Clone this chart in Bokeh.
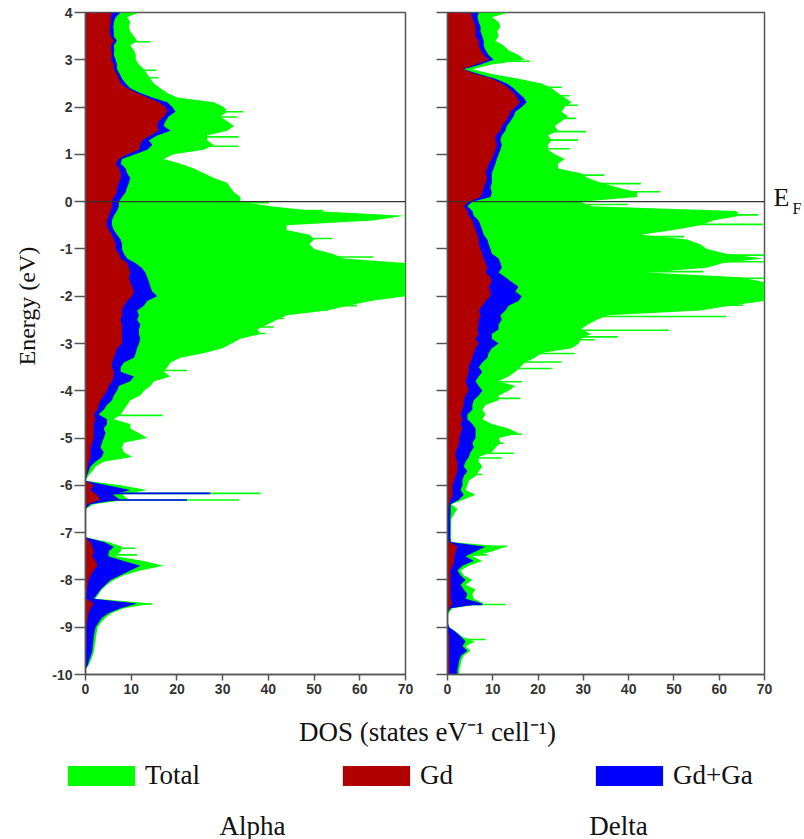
from bokeh.plotting import figure
from bokeh.models import (Range1d, FixedTicker, Span, Legend, LegendItem, Label, Title,
                          ColumnDataSource, CustomJSTickFormatter, LinearAxis)
from bokeh.layouts import column, row
from bokeh.embed import file_html
from bokeh.resources import INLINE

# ---------------- data ----------------
energy = [4.0, 3.9, 3.8, 3.7, 3.6, 3.5, 3.4, 3.3, 3.2, 3.1,
          3.0, 2.9, 2.8, 2.7, 2.6, 2.5, 2.4, 2.3, 2.2, 2.1,
          2.0, 1.9, 1.8, 1.7, 1.6, 1.5, 1.4, 1.3, 1.2, 1.1,
          1.0, 0.9, 0.8, 0.7, 0.6, 0.5, 0.4, 0.3, 0.2, 0.1,
          0.0, -0.1, -0.2, -0.3, -0.4, -0.5, -0.6, -0.7, -0.8, -0.9,
          -1.0, -1.1, -1.2, -1.3, -1.4, -1.5, -1.6, -1.7, -1.8, -1.9,
          -2.0, -2.1, -2.2, -2.3, -2.4, -2.5, -2.6, -2.7, -2.8, -2.9,
          -3.0, -3.1, -3.2, -3.3, -3.4, -3.5, -3.6, -3.7, -3.8, -3.9,
          -4.0, -4.1, -4.2, -4.3, -4.4, -4.5, -4.6, -4.7, -4.8, -4.9,
          -5.0, -5.1, -5.2, -5.3, -5.4, -5.5, -5.6, -5.7, -5.8, -5.9,
          -6.0, -6.1, -6.2, -6.3, -6.4, -6.5, -6.6, -6.7, -6.8, -6.9,
          -7.0, -7.1, -7.2, -7.3, -7.4, -7.5, -7.6, -7.7, -7.8, -7.9,
          -8.0, -8.1, -8.2, -8.3, -8.4, -8.5, -8.6, -8.7, -8.8, -8.9,
          -9.0, -9.1, -9.2, -9.3, -9.4, -9.5, -9.6, -9.7, -9.8, -9.9,
          -10.0]

alpha_total = [11.7, 9.1, 9.8, 9.5, 9.8, 10.6, 11.3, 9.8, 10.6, 11.0,
               11.0, 11.7, 12.8, 13.5, 14.2, 15.0, 16.4, 17.9, 20.1, 28.1,
               30.3, 31.0, 29.5, 31.0, 32.5, 31.0, 26.6, 26.6, 28.1, 25.9,
               19.3, 17.1, 20.8, 23.7, 25.9, 28.1, 31.0, 31.7, 32.5, 33.9,
               33.9, 40.5, 50.0, 69.7, 63.0, 44.0, 44.0, 49.0, 50.0, 49.0,
               50.0, 54.0, 56.5, 70.0, 70.0, 70.0, 70.0, 70.0, 70.0, 70.0,
               70.0, 62.4, 57.3, 52.9, 44.1, 41.9, 39.8, 37.6, 38.3, 33.9,
               32.0, 30.0, 26.0, 20.8, 18.6, 17.9, 17.1, 18.6, 15.0, 14.2,
               12.8, 12.0, 9.8, 9.1, 8.4, 7.7, 6.2, 9.8, 9.8, 11.7,
               13.5, 8.4, 8.0, 8.4, 10.2, 4.0, 2.2, 1.5, 0.6, 0.0,
               7.7, 13.5, 8.0, 9.5, 1.8, 0.0, 0.0, 0.0, 0.0, 0.0,
               0.0, 0.0, 5.0, 8.0, 7.7, 6.5, 12.8, 17.1, 12.0, 8.4,
               6.2, 4.7, 3.6, 2.9, 2.2, 14.6, 8.4, 5.8, 4.4, 3.4,
               2.7, 2.5, 2.3, 2.2, 2.0, 1.9, 1.6, 1.2, 0.7, 0.0,
               0.0]
alpha_gdga = [7.7, 6.6, 6.2, 6.1, 6.2, 6.2, 6.9, 6.2, 6.3, 6.2,
              6.6, 6.9, 6.9, 7.5, 8.0, 8.8, 9.8, 12.0, 14.6, 17.9,
              19.0, 19.7, 18.2, 17.5, 17.1, 18.6, 15.7, 13.9, 14.6, 13.5,
              10.9, 8.0, 7.7, 8.8, 9.1, 9.8, 9.5, 9.1, 8.8, 8.0,
              7.3, 7.3, 6.9, 6.2, 5.8, 5.8, 6.2, 6.9, 7.7, 8.0,
              8.0, 8.4, 9.1, 10.9, 12.3, 13.1, 13.5, 13.9, 14.2, 14.6,
              15.7, 13.5, 12.8, 11.3, 11.7, 11.3, 12.0, 11.7, 11.7, 12.0,
              11.7, 11.3, 11.0, 10.6, 8.4, 7.7, 7.7, 10.6, 9.8, 7.3,
              6.9, 6.2, 5.8, 4.7, 4.0, 2.9, 4.7, 4.7, 4.0, 4.4,
              4.0, 3.6, 3.3, 4.0, 3.6, 2.2, 1.1, 0.7, 0.3, 0.0,
              4.7, 9.8, 6.0, 7.5, 1.1, 0.0, 0.0, 0.0, 0.0, 0.0,
              0.0, 0.0, 4.0, 6.2, 5.1, 5.0, 8.4, 12.0, 9.8, 7.7,
              5.5, 4.4, 3.3, 2.6, 1.8, 11.3, 7.7, 5.1, 3.6, 2.9,
              2.2, 2.0, 1.8, 1.7, 1.6, 1.5, 1.2, 0.8, 0.5, 0.0,
              0.0]
alpha_gd = [5.8, 5.5, 5.5, 5.3, 5.3, 5.5, 6.2, 5.6, 5.6, 5.8,
            5.6, 6.2, 6.2, 6.9, 7.3, 7.7, 9.1, 11.3, 13.5, 16.0,
            17.5, 17.9, 17.1, 16.0, 15.7, 16.0, 14.2, 12.4, 12.0, 11.7,
            9.1, 7.3, 6.6, 7.3, 7.7, 7.7, 7.3, 6.9, 6.9, 6.2,
            5.8, 5.8, 5.5, 5.1, 4.7, 4.6, 5.1, 5.8, 6.2, 6.6,
            6.6, 7.3, 7.7, 9.1, 9.5, 9.8, 9.5, 9.8, 10.2, 10.6,
            10.2, 9.1, 8.4, 8.0, 8.0, 7.7, 8.0, 8.0, 8.0, 8.0,
            8.0, 6.9, 6.6, 6.2, 5.8, 5.8, 6.2, 6.2, 5.8, 5.1,
            4.7, 4.0, 3.3, 2.9, 2.6, 1.8, 2.2, 1.8, 1.8, 1.8,
            1.8, 1.5, 1.1, 1.1, 1.1, 0.7, 0.5, 0.4, 0.2, 0.0,
            1.8, 1.1, 2.5, 3.3, 0.4, 0.0, 0.0, 0.0, 0.0, 0.0,
            0.0, 0.0, 1.0, 1.5, 1.8, 1.5, 2.2, 2.6, 1.8, 1.1,
            0.7, 0.5, 0.4, 0.2, 0.2, 1.8, 1.1, 0.7, 0.5, 0.4,
            0.2, 0.2, 0.2, 0.2, 0.2, 0.1, 0.1, 0.1, 0.1, 0.0,
            0.0]

delta_total = [13.5, 9.8, 11.3, 11.7, 11.0, 11.3, 10.6, 12.4, 13.5, 15.7,
               17.1, 9.8, 5.5, 9.8, 15.7, 20.8, 23.0, 24.4, 25.9, 27.4,
               25.9, 25.2, 26.6, 25.2, 23.7, 24.4, 22.2, 23.0, 22.2, 22.2,
               23.7, 25.9, 24.4, 24.4, 29.5, 31.0, 33.9, 37.6, 41.9, 41.9,
               29.5, 31.7, 63.8, 64.6, 58.7, 55.8, 50.0, 42.7, 52.9, 55.8,
               57.3, 61.6, 69.7, 60.9, 57.3, 44.1, 64.6, 70.0, 70.0, 70.0,
               70.0, 70.0, 62.4, 55.8, 35.4, 33.0, 31.0, 29.5, 31.7, 29.5,
               29.0, 27.4, 20.8, 19.3, 17.1, 16.0, 15.0, 13.5, 11.3, 15.0,
               13.5, 11.3, 11.3, 8.4, 7.7, 8.4, 7.7, 9.8, 13.5, 15.7,
               11.3, 11.7, 10.6, 9.8, 6.9, 6.9, 7.7, 6.9, 6.2, 4.7,
               4.4, 4.0, 6.2, 3.6, 0.9, 2.2, 1.5, 0.9, 0.8, 0.8,
               0.8, 0.8, 0.9, 12.8, 9.8, 5.5, 7.7, 4.7, 2.9, 3.6,
               5.5, 4.0, 6.2, 5.5, 5.8, 8.0, 1.1, 0.3, 0.0, 0.0,
               0.4, 2.0, 3.3, 6.0, 4.0, 5.1, 3.6, 3.1, 2.9, 2.6,
               2.6]
delta_gdga = [6.9, 6.6, 6.9, 7.3, 7.3, 7.7, 8.0, 8.0, 8.4, 9.1,
              10.2, 7.3, 3.6, 6.9, 10.6, 13.1, 14.6, 15.7, 16.8, 17.5,
              16.4, 15.0, 14.6, 13.9, 13.1, 12.8, 12.0, 11.7, 12.0, 11.7,
              11.3, 10.9, 10.6, 10.2, 9.8, 9.8, 9.8, 9.5, 9.8, 9.5,
              5.5, 4.4, 5.5, 5.8, 6.9, 7.3, 7.7, 8.0, 8.8, 9.1,
              9.5, 9.8, 11.3, 11.7, 12.0, 11.3, 12.8, 14.2, 15.7, 15.0,
              16.4, 15.7, 13.5, 12.8, 11.7, 12.0, 11.3, 11.3, 9.8, 9.8,
              11.3, 9.8, 9.1, 8.8, 7.7, 6.9, 7.7, 6.9, 6.2, 6.9,
              7.7, 6.9, 5.8, 5.5, 5.5, 4.4, 4.4, 5.5, 6.2, 6.2,
              6.2, 5.5, 5.8, 5.1, 4.7, 4.0, 3.6, 4.4, 3.6, 3.3,
              3.3, 2.9, 3.6, 2.6, 0.7, 0.7, 0.7, 0.6, 0.6, 0.6,
              0.6, 0.6, 0.7, 8.4, 6.2, 4.0, 5.8, 3.3, 2.2, 2.9,
              4.0, 2.9, 3.6, 4.4, 4.0, 7.7, 0.7, 0.0, 0.0, 0.0,
              0.4, 1.8, 3.0, 4.0, 3.3, 4.4, 3.0, 2.6, 2.4, 2.2,
              2.2]
delta_gd = [5.1, 5.5, 5.8, 6.2, 6.2, 6.2, 6.9, 6.9, 7.3, 8.0,
            9.1, 6.2, 3.3, 6.2, 9.8, 12.0, 13.5, 14.6, 15.3, 16.0,
            15.0, 13.9, 13.5, 12.8, 12.0, 11.7, 10.6, 10.6, 10.9, 10.6,
            10.2, 9.8, 9.1, 8.8, 8.4, 8.8, 8.4, 8.0, 7.7, 7.3,
            4.7, 3.6, 4.4, 4.7, 5.5, 5.8, 6.2, 6.6, 6.9, 6.9,
            7.3, 7.7, 8.0, 8.4, 8.8, 8.4, 9.5, 9.8, 9.1, 9.5,
            9.5, 8.4, 7.7, 6.9, 7.3, 6.9, 6.9, 6.6, 6.9, 6.2,
            6.9, 6.2, 5.8, 5.5, 5.1, 4.7, 4.7, 4.4, 4.0, 4.4,
            4.7, 4.0, 3.6, 3.6, 3.3, 2.9, 3.3, 2.9, 3.3, 2.9,
            2.6, 2.6, 2.2, 1.8, 1.8, 2.2, 2.2, 2.2, 1.8, 1.5,
            1.1, 1.1, 1.1, 0.7, 0.4, 0.2, 0.2, 0.1, 0.1, 0.1,
            0.1, 0.1, 0.4, 2.2, 1.8, 1.5, 1.5, 1.1, 0.7, 0.7,
            0.7, 0.7, 0.7, 0.7, 0.7, 1.1, 0.4, 0.0, 0.0, 0.0,
            0.0, 0.2, 0.4, 0.4, 0.4, 0.4, 0.4, 0.4, 0.4, 0.4,
            0.4]

# narrow spikes of the total (and Gd+Ga) DOS
alpha_spike_e = [3.38, 2.78, 2.62, 1.90, 1.79, 1.37, 1.17, -0.02, -0.19, -0.78,
                 -1.17, -2.08, -2.20, -2.29, -2.47, -2.65, -2.79, -3.57, -4.52,
                 -6.17, -6.31, -7.33, -7.47, -8.51]
alpha_spike_total = [14.2, 15.5, 16.0, 34.5, 33.2, 33.5, 33.5, 40.1, 52.0, 54.0,
                     63.0, 62.4, 59.4, 52.9, 43.4, 41.2, 39.4, 22.2, 16.8,
                     38.3, 33.6, 10.9, 11.3, 14.6]
alpha_spike_gdga = [0, 0, 0, 0, 0, 0, 0, 0, 0, 0,
                    0, 0, 0, 0, 0, 0, 0, 0, 0,
                    27.3, 22.2, 0, 0, 0]

delta_spike_e = [2.97, 2.42, 2.24, 2.04, 1.76, 1.48, 1.30, 1.12, 0.56, 0.38,
                 0.21, -0.06, -0.28, -0.48, -0.74, -0.92, -1.13, -1.27, -1.48, -1.62,
                 -2.19, -2.43, -2.72, -2.86, -2.92, -3.21, -3.39, -3.53, -3.81, -4.16,
                 -4.92, -5.11, -5.32, -5.42, -5.77, -7.29, -7.47, -8.52, -9.26]
delta_spike_total = [18.2, 25.2, 27.0, 28.8, 28.4, 30.6, 28.8, 27.0, 34.6, 42.7,
                     47.0, 39.8, 68.6, 69.7, 52.2, 55.8, 70.0, 70.0, 56.5, 70.0,
                     65.3, 61.6, 48.9, 37.6, 32.5, 28.1, 25.2, 23.0, 16.4, 16.0,
                     16.4, 12.4, 14.6, 12.0, 7.7, 13.1, 8.8, 12.8, 8.4]
delta_spike_gdga = [0, 0, 0, 0, 0, 0, 0, 0, 0, 0,
                    0, 0, 0, 0, 0, 0, 0, 0, 0, 0,
                    0, 0, 0, 0, 0, 0, 0, 0, 0, 0,
                    0, 0, 0, 0, 0, 0, 0, 7.7, 0]

x_ticks = [0, 10, 20, 30, 40, 50, 60, 70]
y_ticks = [-10, -9, -8, -7, -6, -5, -4, -3, -2, -1, 0, 1, 2, 3, 4]
legend_labels = ["Total", "Gd", "Gd+Ga"]
panel_titles = ["Alpha", "Delta"]
fermi_level = 0.0

GREEN = "#00ff00"
RED = "#b00000"
BLUE = "#0000ff"
AX = "#555555"
TICKFONT = "Liberation Sans"
SERIF = "Liberation Serif"


def panel(width, bl, br, total, gdga, gd, sp_e, sp_tot, sp_gdga, show_labels):
    p = figure(width=width, height=708, x_range=Range1d(0, 70), y_range=Range1d(-10, 4),
               output_backend="svg", toolbar_location=None,
               min_border_left=bl, min_border_right=br, min_border_top=12, min_border_bottom=34)
    p.grid.visible = False
    p.outline_line_color = AX
    p.outline_line_width = 1.5
    src = ColumnDataSource(dict(E=energy, tot=total, gdga=gdga, gd=gd))
    ssrc = ColumnDataSource(dict(E=sp_e, tot=sp_tot, gdga=sp_gdga))
    p.harea(y="E", x1=0, x2="tot", source=src, fill_color=GREEN)
    p.segment(x0=0, y0="E", x1="tot", y1="E", source=ssrc, line_color=GREEN, line_width=1.6)
    p.harea(y="E", x1=0, x2="gdga", source=src, fill_color=BLUE)
    p.segment(x0=0, y0="E", x1="gdga", y1="E", source=ssrc, line_color=BLUE, line_width=1.6)
    p.harea(y="E", x1=0, x2="gd", source=src, fill_color=RED)
    p.add_layout(Span(location=fermi_level, dimension="width", line_color="#333333", line_width=1.2))

    for ax in (p.xaxis[0], p.yaxis[0]):
        ax.axis_line_color = AX
        ax.axis_line_width = 1.5
        ax.major_tick_line_color = AX
        ax.major_tick_line_width = 1.5
        ax.minor_tick_line_color = None
        ax.major_tick_in = 0
        ax.major_label_text_font = TICKFONT
        ax.major_label_text_font_style = "bold"
        ax.major_label_text_font_size = "14px"
        ax.major_label_text_color = "#333333"
    p.xaxis.ticker = FixedTicker(ticks=x_ticks)
    p.yaxis.ticker = FixedTicker(ticks=y_ticks)
    p.xaxis.major_tick_out = 6
    p.xaxis.major_label_standoff = 3
    p.yaxis.major_tick_out = 11
    p.yaxis.major_label_standoff = 2
    if show_labels:
        p.yaxis.formatter = CustomJSTickFormatter(code="return String(tick)")
    else:
        p.yaxis.formatter = CustomJSTickFormatter(code="return ''")
    return p


pL = panel(425, 85, 20, alpha_total, alpha_gdga, alpha_gd,
           alpha_spike_e, alpha_spike_total, alpha_spike_gdga, True)
pR = panel(379, 22, 37, delta_total, delta_gdga, delta_gd,
           delta_spike_e, delta_spike_total, delta_spike_gdga, False)

# y-axis title (placed off-centre as in the original)
pL.add_layout(Title(text="Energy (eV)", align="left", offset=309, standoff=19,
                    text_font=SERIF, text_font_size="24px", text_font_style="normal",
                    text_color="#111111"), "left")


# E_F marker: two label-only axes on the right of the Delta panel
def label_axis(txt, where, size, standoff):
    ax = LinearAxis(ticker=FixedTicker(ticks=[where]),
                    formatter=CustomJSTickFormatter(code="return '%s'" % txt))
    ax.axis_line_color = None
    ax.major_tick_line_color = None
    ax.minor_tick_line_color = None
    ax.major_tick_out = 0
    ax.major_tick_in = 0
    ax.major_label_standoff = standoff
    ax.major_label_text_font = SERIF
    ax.major_label_text_font_size = size
    ax.major_label_text_color = "#111111"
    return ax


pR.add_layout(label_axis("E", fermi_level + 0.08, "26px", 9), "right")
pR.add_layout(label_axis("F", fermi_level - 0.14, "16px", 0), "right")

# bottom strip: axis title, legend, panel names
pB = figure(width=804, height=131, x_range=Range1d(0, 804), y_range=Range1d(131, 0),
            output_backend="svg", toolbar_location=None, min_border=0,
            x_axis_type=None, y_axis_type=None)
pB.grid.visible = False
pB.outline_line_color = None
rg = pB.harea(y=energy, x1=0, x2=alpha_total, fill_color=GREEN, visible=False)
rr = pB.harea(y=energy, x1=0, x2=alpha_gd, fill_color=RED, visible=False)
rb = pB.harea(y=energy, x1=0, x2=alpha_gdga, fill_color=BLUE, visible=False)
leg = Legend(items=[LegendItem(label=legend_labels[0], renderers=[rg]),
                    LegendItem(label=legend_labels[1], renderers=[rr]),
                    LegendItem(label=legend_labels[2], renderers=[rb])],
             orientation="horizontal", location=(59, 48),
             glyph_width=84, glyph_height=25, label_standoff=2, spacing=134,
             padding=0, margin=0, border_line_color=None, background_fill_alpha=0,
             inactive_fill_alpha=0,
             label_text_font=SERIF, label_text_font_size="27px", label_text_color="#111111",
             label_height=20)
pB.add_layout(leg)
pB.add_layout(Label(x=427, y=23, text="DOS (states eV\u207b\u00b9 cell\u207b\u00b9)",
                    text_align="center", text_baseline="middle",
                    text_font=SERIF, text_font_size="27px", text_color="#111111"))
pB.add_layout(Label(x=252, y=117, text=panel_titles[0], text_align="center", text_baseline="middle",
                    text_font=SERIF, text_font_size="27px", text_color="#111111"))
pB.add_layout(Label(x=618, y=117, text=panel_titles[1], text_align="center", text_baseline="middle",
                    text_font=SERIF, text_font_size="27px", text_color="#111111"))

layout = column(row(pL, pR, spacing=0), pB, spacing=0)
open("out.html", "w").write(file_html(layout, INLINE))
